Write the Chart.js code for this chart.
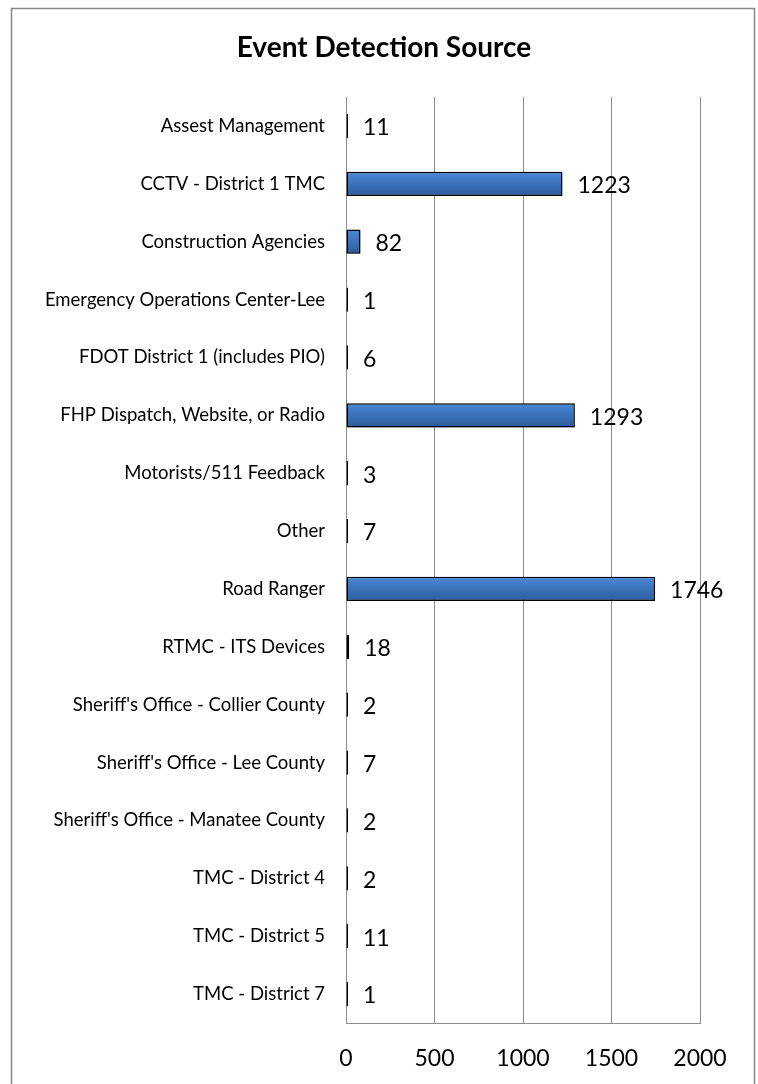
<!DOCTYPE html>
<html>
<head>
<meta charset="utf-8">
<script src="https://cdn.jsdelivr.net/npm/chart.js@4.4.0/dist/chart.umd.min.js"></script>
<style>
  html, body { margin: 0; padding: 0; background: #fff; }
  #wrap { width: 758px; height: 1084px; }
</style>
</head>
<body>
<div id="wrap"><canvas id="sourceChart" width="758" height="1084"></canvas></div>
<script>
// chart data
const sources = [
  'Assest Management',
  'CCTV - District 1 TMC',
  'Construction Agencies',
  'Emergency Operations Center-Lee',
  'FDOT District 1 (includes PIO)',
  'FHP Dispatch, Website, or Radio',
  'Motorists/511 Feedback',
  'Other',
  'Road Ranger',
  'RTMC - ITS Devices',
  "Sheriff's Office - Collier County",
  "Sheriff's Office - Lee County",
  "Sheriff's Office - Manatee County",
  'TMC - District 4',
  'TMC - District 5',
  'TMC - District 7'
];
const eventCounts = [11, 1223, 82, 1, 6, 1293, 3, 7, 1746, 18, 2, 7, 2, 2, 11, 1];
const xTicks = [0, 500, 1000, 1500, 2000];
const chartTitle = 'Event Detection Source';

const FONT = 'Lato, "Open Sans", sans-serif';

// frame, title, bar gradient and value labels
const decorations = {
  id: 'decorations',
  beforeDraw(chart) {
    const c = chart.ctx;
    c.save();
    c.strokeStyle = '#878787';
    c.lineWidth = 1.5;
    c.strokeRect(11.5, 8.5, 743, 1100);
    c.fillStyle = '#000';
    c.font = 'bold 28px ' + FONT;
    c.textAlign = 'center';
    c.textBaseline = 'middle';
    c.fillText(chartTitle, 384, 48);
    c.restore();
  },
  beforeDatasetDraw(chart, args) {
    const meta = args.meta;
    meta.data.forEach(bar => {
      const h = bar.height;
      const g = chart.ctx.createLinearGradient(0, bar.y - h / 2, 0, bar.y + h / 2);
      g.addColorStop(0, '#4a89d6');
      g.addColorStop(1, '#2c5b9c');
      bar.options = Object.assign({}, bar.options, { backgroundColor: g });
    });
    const c = chart.ctx;
    c.save();
    c.shadowColor = 'rgba(0,0,0,0.35)';
    c.shadowBlur = 4;
    c.shadowOffsetX = 1;
    c.shadowOffsetY = 2;
  },
  afterDatasetDraw(chart) {
    chart.ctx.restore();
  },
  afterDatasetsDraw(chart) {
    const c = chart.ctx;
    const meta = chart.getDatasetMeta(0);
    c.save();
    c.fillStyle = '#000';
    c.font = '23px ' + FONT;
    c.textAlign = 'left';
    c.textBaseline = 'middle';
    meta.data.forEach((bar, i) => {
      c.fillText(String(eventCounts[i]), bar.x + 15, bar.y + 2);
    });
    c.restore();
  }
};

const ctx = document.getElementById('sourceChart').getContext('2d');

const sourceChart = new Chart(ctx, {
  type: 'bar',
  data: {
    labels: sources,
    datasets: [{
      data: eventCounts,
      backgroundColor: '#3a72bb',
      borderColor: '#000',
      borderWidth: 1.5,
      borderSkipped: false,
      minBarLength: 2,
      barPercentage: 0.42,
      categoryPercentage: 1
    }]
  },
  options: {
    indexAxis: 'y',
    responsive: false,
    animation: false,
    layout: { padding: { top: 97, right: 58, bottom: 0, left: 0 } },
    plugins: {
      legend: { display: false },
      tooltip: { enabled: false }
    },
    scales: {
      x: {
        min: 0,
        max: 2000,
        afterBuildTicks(scale) {
          scale.ticks = xTicks.map(v => ({ value: v }));
        },
        afterFit(scale) { scale.height = 61; },
        grid: { color: '#8c8c8c', lineWidth: 1, drawTicks: false },
        border: { color: '#8c8c8c', width: 1 },
        ticks: {
          padding: 22,
          color: '#000',
          font: { family: FONT, size: 23 },
          callback: v => String(v)
        }
      },
      y: {
        afterFit(scale) { scale.width = 346; },
        grid: { display: false, drawTicks: false },
        border: { color: '#8c8c8c', width: 1 },
        ticks: {
          padding: 21,
          color: '#000',
          autoSkip: false,
          font: { family: FONT, size: 18.5 }
        }
      }
    }
  },
  plugins: [decorations]
});
</script>
</body>
</html>
